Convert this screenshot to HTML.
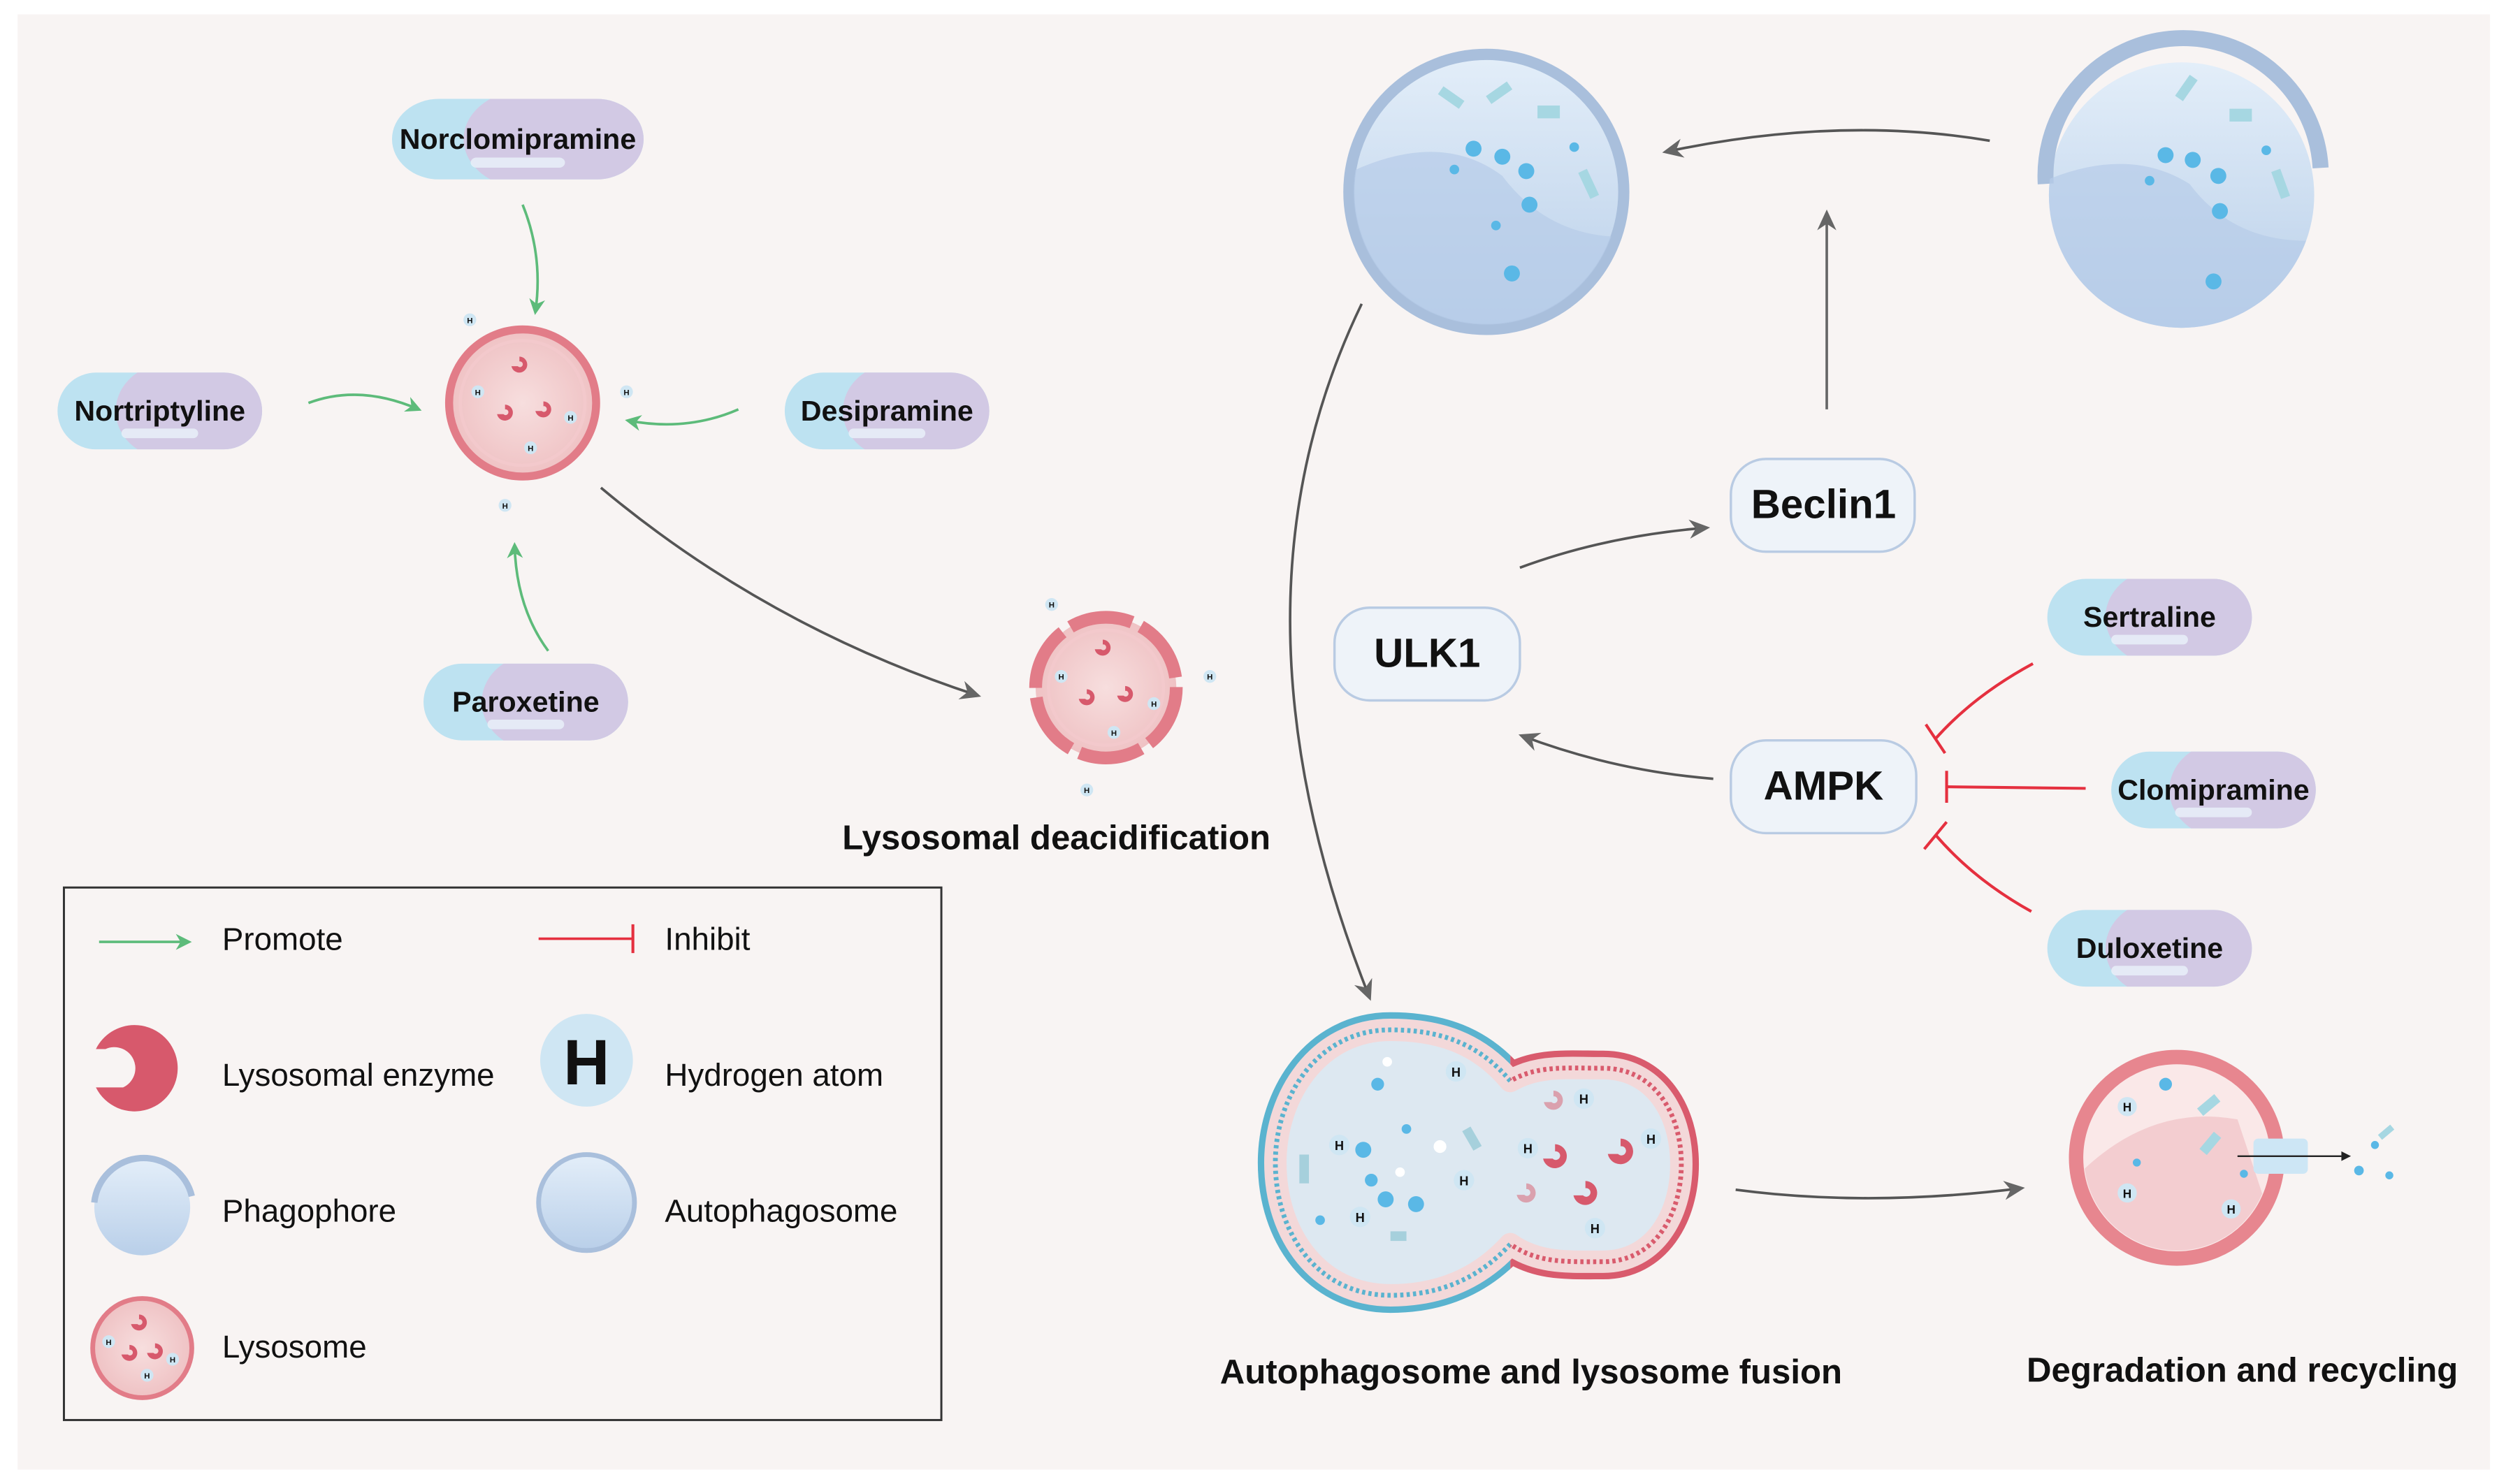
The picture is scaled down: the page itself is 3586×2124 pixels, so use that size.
<!DOCTYPE html>
<html><head><meta charset="utf-8"><style>
html,body{margin:0;padding:0;background:#fff;}
svg{display:block;}
text{font-family:"Liberation Sans",Arial,sans-serif;fill:#111;}
</style></head><body>
<svg width="3586" height="2124" viewBox="0 0 1568 928" preserveAspectRatio="none" xmlns="http://www.w3.org/2000/svg">
<defs>
<marker id="ag" markerWidth="10" markerHeight="10" refX="8" refY="5" orient="auto" markerUnits="userSpaceOnUse"><path d="M0,0 L10,5 L0,10 L3,5 z" fill="#5dbb7a"/></marker>
<marker id="ak" markerWidth="14" markerHeight="14" refX="11" refY="7" orient="auto" markerUnits="userSpaceOnUse"><path d="M0,1 L13,7 L0,13 L4,7 z" fill="#666"/></marker>
<radialGradient id="lyso" cx="0.5" cy="0.5" r="0.5"><stop offset="0" stop-color="#f7dede"/><stop offset="1" stop-color="#efc2c4"/></radialGradient>
<linearGradient id="auto" x1="0" y1="0" x2="0" y2="1"><stop offset="0" stop-color="#e3eef9"/><stop offset="1" stop-color="#b9cfe9"/></linearGradient>
<clipPath id="c1"><circle cx="930" cy="120" r="83"/></clipPath>
<clipPath id="c2"><circle cx="1365" cy="122" r="83"/></clipPath>
<clipPath id="c3"><circle cx="1362" cy="724" r="58"/></clipPath>
<clipPath id="cl"><rect x="700" y="600" width="245" height="260"/></clipPath>
<clipPath id="cr"><rect x="945" y="600" width="200" height="260"/></clipPath>
<path id="fus" d="M945,676 C925,652 900,644 870,644 C825,644 798,685 798,727 C798,772 825,810 870,810 C900,810 925,800 945,778 C962,790 980,789 1003,789 C1035,789 1052,760 1052,728 C1052,696 1035,668 1003,668 C980,668 962,666 945,676 Z"/>
<g id="pill">
  <rect x="-64" y="-24" width="128" height="48" rx="24" fill="#bde2f1"/>
  <path d="M-14,-24 H40 A24,24 0 0 1 40,24 H-14 A34,30 0 0 1 -14,-24z" fill="#d2c9e4"/>
  <rect x="-24" y="11" width="48" height="6" rx="3" fill="#eaf2fa" opacity="0.8"/>
</g>
<g id="hat"><circle r="4" fill="#cfe6f3"/><text x="0" y="2" font-size="5" text-anchor="middle" font-weight="bold">H</text></g>
<g id="enz"><path d="M0,-5 A5,5 0 1 1 -5,1 L-1,1 A1.8,1.8 0 1 0 0,-2 z" fill="#d7596c"/></g>
</defs>
<rect width="1568" height="928" fill="#fff"/>
<rect x="11" y="9" width="1547" height="910" fill="#f8f4f3"/>

<!-- pills left -->
<g transform="translate(324,87) scale(1.23,1.05)"><use href="#pill"/></g>
<text x="324" y="93" font-size="18" font-weight="bold" text-anchor="middle">Norclomipramine</text>
<g transform="translate(100,257)"><use href="#pill"/></g>
<text x="100" y="263" font-size="18" font-weight="bold" text-anchor="middle">Nortriptyline</text>
<g transform="translate(555,257)"><use href="#pill"/></g>
<text x="555" y="263" font-size="18" font-weight="bold" text-anchor="middle">Desipramine</text>
<g transform="translate(329,439)"><use href="#pill"/></g>
<text x="329" y="445" font-size="18" font-weight="bold" text-anchor="middle">Paroxetine</text>

<!-- lysosome -->
<circle cx="327" cy="252" r="46" fill="url(#lyso)" stroke="#e27c88" stroke-width="5"/>
<circle cx="327" cy="252" r="39" fill="none" stroke="#f3c9cc" stroke-width="2"/>
<use href="#enz" x="325" y="228"/><use href="#enz" x="316" y="258"/><use href="#enz" x="340" y="256"/>
<use href="#hat" x="299" y="245"/><use href="#hat" x="357" y="261"/><use href="#hat" x="332" y="280"/>
<use href="#hat" x="294" y="200"/><use href="#hat" x="392" y="245"/><use href="#hat" x="316" y="316"/>

<!-- green arrows -->
<path d="M327,128 Q340,160 335,195" fill="none" stroke="#5dbb7a" stroke-width="1.6" marker-end="url(#ag)"/>
<path d="M193,252 Q225,240 262,256" fill="none" stroke="#5dbb7a" stroke-width="1.6" marker-end="url(#ag)"/>
<path d="M462,256 Q430,270 393,263" fill="none" stroke="#5dbb7a" stroke-width="1.6" marker-end="url(#ag)"/>
<path d="M343,407 Q323,380 322,341" fill="none" stroke="#5dbb7a" stroke-width="1.6" marker-end="url(#ag)"/>

<!-- dark arrow to deacidification -->
<path d="M376,305 Q480,392 612,435" fill="none" stroke="#555" stroke-width="1.6" marker-end="url(#ak)"/>
<circle cx="692" cy="430" r="44" fill="url(#lyso)" stroke="#e27c88" stroke-width="8" stroke-dasharray="40 6"/>
<circle cx="692" cy="430" r="36" fill="none" stroke="#f3c9cc" stroke-width="2"/>
<use href="#enz" x="690" y="405"/><use href="#enz" x="680" y="436"/><use href="#enz" x="704" y="434"/>
<use href="#hat" x="664" y="423"/><use href="#hat" x="722" y="440"/><use href="#hat" x="697" y="458"/>
<use href="#hat" x="658" y="378"/><use href="#hat" x="757" y="423"/><use href="#hat" x="680" y="494"/>
<text x="661" y="531" font-size="21.5" font-weight="bold" text-anchor="middle">Lysosomal deacidification</text>

<!-- autophagosome top -->
<circle cx="930" cy="120" r="86" fill="url(#auto)" stroke="#a9bfdc" stroke-width="7"/>
<path clip-path="url(#c1)" d="M840,110 Q900,80 940,110 Q970,150 1020,148 L1020,220 L840,220z" fill="#b6cce8" opacity="0.7"/>
<g fill="#5ab8e6"><circle cx="922" cy="93" r="5"/><circle cx="940" cy="98" r="5"/><circle cx="955" cy="107" r="5"/><circle cx="957" cy="128" r="5"/><circle cx="946" cy="171" r="5"/><circle cx="910" cy="106" r="3"/><circle cx="985" cy="92" r="3"/><circle cx="936" cy="141" r="3"/></g>
<g fill="#a6d7e2"><rect x="900" y="58" width="16" height="6" transform="rotate(35 908 61)"/><rect x="930" y="55" width="16" height="6" transform="rotate(-35 938 58)"/><rect x="962" y="66" width="14" height="8"/><rect x="985" y="112" width="18" height="6" transform="rotate(65 994 115)"/></g>

<!-- phagophore -->
<circle cx="1365" cy="122" r="83" fill="url(#auto)"/>
<path d="M1280,115 A86,86 0 0 1 1452,105" fill="none" stroke="#a9bfdc" stroke-width="10"/>
<path clip-path="url(#c2)" d="M1275,115 Q1330,90 1370,115 Q1400,155 1455,150 L1455,220 L1275,220z" fill="#b6cce8" opacity="0.7"/>
<g fill="#5ab8e6"><circle cx="1355" cy="97" r="5"/><circle cx="1372" cy="100" r="5"/><circle cx="1388" cy="110" r="5"/><circle cx="1389" cy="132" r="5"/><circle cx="1385" cy="176" r="5"/><circle cx="1345" cy="113" r="3"/><circle cx="1418" cy="94" r="3"/></g>
<g fill="#a6d7e2"><rect x="1360" y="52" width="16" height="6" transform="rotate(-55 1368 55)"/><rect x="1395" y="68" width="14" height="8"/><rect x="1418" y="112" width="18" height="6" transform="rotate(70 1427 115)"/></g>

<path d="M1245,88 Q1150,72 1042,95" fill="none" stroke="#555" stroke-width="1.6" marker-end="url(#ak)"/>
<path d="M1143,256 L1143,133" fill="none" stroke="#666" stroke-width="1.6" marker-end="url(#ak)"/>

<!-- boxes -->
<rect x="1083" y="287" width="115" height="58" rx="22" fill="#eef3f9" stroke="#b9cbe3" stroke-width="1.5"/>
<text x="1141" y="324" font-size="25.5" font-weight="bold" text-anchor="middle">Beclin1</text>
<rect x="835" y="380" width="116" height="58" rx="22" fill="#eef3f9" stroke="#b9cbe3" stroke-width="1.5"/>
<text x="893" y="417" font-size="25.5" font-weight="bold" text-anchor="middle">ULK1</text>
<rect x="1083" y="463" width="116" height="58" rx="22" fill="#eef3f9" stroke="#b9cbe3" stroke-width="1.5"/>
<text x="1141" y="500" font-size="25.5" font-weight="bold" text-anchor="middle">AMPK</text>
<path d="M951,355 Q1005,335 1068,330" fill="none" stroke="#555" stroke-width="1.6" marker-end="url(#ak)"/>
<path d="M1072,487 Q1010,482 952,460" fill="none" stroke="#555" stroke-width="1.6" marker-end="url(#ak)"/>

<!-- right pills -->
<g transform="translate(1345,386)"><use href="#pill"/></g>
<text x="1345" y="392" font-size="18" font-weight="bold" text-anchor="middle">Sertraline</text>
<g transform="translate(1385,494)"><use href="#pill"/></g>
<text x="1385" y="500" font-size="18" font-weight="bold" text-anchor="middle">Clomipramine</text>
<g transform="translate(1345,593)"><use href="#pill"/></g>
<text x="1345" y="599" font-size="18" font-weight="bold" text-anchor="middle">Duloxetine</text>
<g fill="none" stroke="#e5303f" stroke-width="1.8">
<path d="M1272,415 Q1235,435 1211,462"/><path d="M1205,453 L1217,471"/>
<path d="M1305,493 L1218,492"/><path d="M1218,482 L1218,502"/>
<path d="M1271,570 Q1235,550 1211,522"/><path d="M1204,531 L1218,514"/>
</g>

<!-- big curve -->
<path d="M852,190 Q760,380 857,624" fill="none" stroke="#555" stroke-width="1.6" marker-end="url(#ak)"/>

<!-- fusion -->
<use href="#fus" fill="none" stroke="#5ab3cf" stroke-width="22" stroke-linejoin="round" clip-path="url(#cl)"/>
<use href="#fus" fill="none" stroke="#d95b6d" stroke-width="22" stroke-linejoin="round" clip-path="url(#cr)"/>
<use href="#fus" fill="#dde8f1" stroke="#f3d8d9" stroke-width="14" stroke-linejoin="round"/>
<use href="#fus" fill="none" stroke="#5ab3cf" stroke-width="3" stroke-dasharray="2 2" clip-path="url(#cl)"/>
<use href="#fus" fill="none" stroke="#d95b6d" stroke-width="3" stroke-dasharray="2 2" clip-path="url(#cr)"/>
<g fill="#5ab8e6"><circle cx="862" cy="678" r="4"/><circle cx="853" cy="719" r="5"/><circle cx="867" cy="750" r="5"/><circle cx="886" cy="753" r="5"/><circle cx="858" cy="738" r="4"/><circle cx="880" cy="706" r="3"/><circle cx="826" cy="763" r="3"/></g>
<g fill="#fff"><circle cx="868" cy="664" r="3"/><circle cx="901" cy="717" r="4"/><circle cx="876" cy="733" r="3"/></g>
<g fill="#a6d0dc"><rect x="813" y="722" width="6" height="18"/><rect x="870" y="770" width="10" height="6"/><rect x="918" y="705" width="6" height="14" transform="rotate(-30 921 712)"/></g>
<g transform="translate(911,670) scale(1.6)"><use href="#hat"/></g>
<g transform="translate(838,716) scale(1.6)"><use href="#hat"/></g>
<g transform="translate(851,761) scale(1.6)"><use href="#hat"/></g>
<g transform="translate(916,738) scale(1.6)"><use href="#hat"/></g>
<g transform="translate(956,718) scale(1.6)"><use href="#hat"/></g>
<g transform="translate(991,687) scale(1.6)"><use href="#hat"/></g>
<g transform="translate(1033,712) scale(1.6)"><use href="#hat"/></g>
<g transform="translate(998,768) scale(1.6)"><use href="#hat"/></g>
<g transform="translate(973,723) scale(1.5)"><use href="#enz"/></g>
<g transform="translate(1014,720) scale(1.6)"><use href="#enz"/></g>
<g transform="translate(992,746) scale(1.5)"><use href="#enz"/></g>
<g transform="translate(972,688) scale(1.2)" opacity="0.5"><use href="#enz"/></g>
<g transform="translate(955,746) scale(1.2)" opacity="0.5"><use href="#enz"/></g>
<text x="958" y="865" font-size="21.5" font-weight="bold" text-anchor="middle">Autophagosome and lysosome fusion</text>

<path d="M1086,744 Q1170,755 1265,743" fill="none" stroke="#555" stroke-width="1.6" marker-end="url(#ak)"/>

<!-- degradation -->
<circle cx="1362" cy="724" r="63" fill="#fae8e8" stroke="#e7868f" stroke-width="9"/>
<path clip-path="url(#c3)" d="M1300,735 Q1345,690 1400,700 L1430,790 L1300,790z" fill="#f1c5c9" opacity="0.8"/>
<rect x="1410" y="712" width="34" height="22" rx="3" fill="#cde6f5"/>
<line x1="1400" y1="723" x2="1465" y2="723" stroke="#222" stroke-width="1"/>
<path d="M1465,720 L1471,723 L1465,726z" fill="#222"/>
<g fill="#5ab8e6"><circle cx="1355" cy="678" r="4"/><circle cx="1476" cy="732" r="3"/><circle cx="1495" cy="735" r="2.5"/><circle cx="1486" cy="716" r="2.5"/><circle cx="1337" cy="727" r="2.5"/><circle cx="1404" cy="734" r="2.5"/></g>
<g fill="#a6d7e2"><rect x="1375" y="688" width="14" height="6" transform="rotate(-40 1382 691)"/><rect x="1376" y="712" width="14" height="6" transform="rotate(-50 1383 715)"/><rect x="1488" y="706" width="10" height="4" transform="rotate(-40 1493 708)"/></g>
<g transform="translate(1331,692) scale(1.5)"><use href="#hat"/></g>
<g transform="translate(1331,746) scale(1.5)"><use href="#hat"/></g>
<g transform="translate(1396,756) scale(1.5)"><use href="#hat"/></g>
<text x="1403" y="864" font-size="21.5" font-weight="bold" text-anchor="middle">Degradation and recycling</text>

<!-- legend -->
<rect x="40" y="555" width="549" height="333" fill="none" stroke="#333" stroke-width="1.3"/>
<line x1="62" y1="589" x2="118" y2="589" stroke="#5dbb7a" stroke-width="1.6" marker-end="url(#ag)"/>
<text x="139" y="594" font-size="20">Promote</text>
<line x1="337" y1="587" x2="396" y2="587" stroke="#e5303f" stroke-width="1.6"/>
<line x1="396" y1="578" x2="396" y2="596" stroke="#e5303f" stroke-width="1.8"/>
<text x="416" y="594" font-size="20">Inhibit</text>
<path d="M84,641 A27,27 0 1 1 60,680 L77,680 A11,11 0 1 0 66,656 L60,656 A27,27 0 0 1 84,641z" fill="#d7596c"/>
<text x="139" y="679" font-size="20">Lysosomal enzyme</text>
<circle cx="367" cy="663" r="29" fill="#cfe6f3"/>
<text x="367" y="678" font-size="40" font-weight="bold" text-anchor="middle">H</text>
<text x="416" y="679" font-size="20">Hydrogen atom</text>
<circle cx="89" cy="755" r="30" fill="url(#auto)"/>
<path d="M59,752 A31,31 0 0 1 120,748" fill="none" stroke="#a9bfdc" stroke-width="4"/>
<text x="139" y="764" font-size="20">Phagophore</text>
<circle cx="367" cy="752" r="30" fill="url(#auto)" stroke="#a9bfdc" stroke-width="3"/>
<text x="416" y="764" font-size="20">Autophagosome</text>
<circle cx="89" cy="843" r="31" fill="url(#lyso)" stroke="#e27c88" stroke-width="3"/>
<use href="#enz" x="87" y="827"/><use href="#enz" x="81" y="846"/><use href="#enz" x="97" y="845"/>
<use href="#hat" x="68" y="839"/><use href="#hat" x="108" y="850"/><use href="#hat" x="92" y="860"/>
<text x="139" y="849" font-size="20">Lysosome</text>
</svg>
</body></html>
